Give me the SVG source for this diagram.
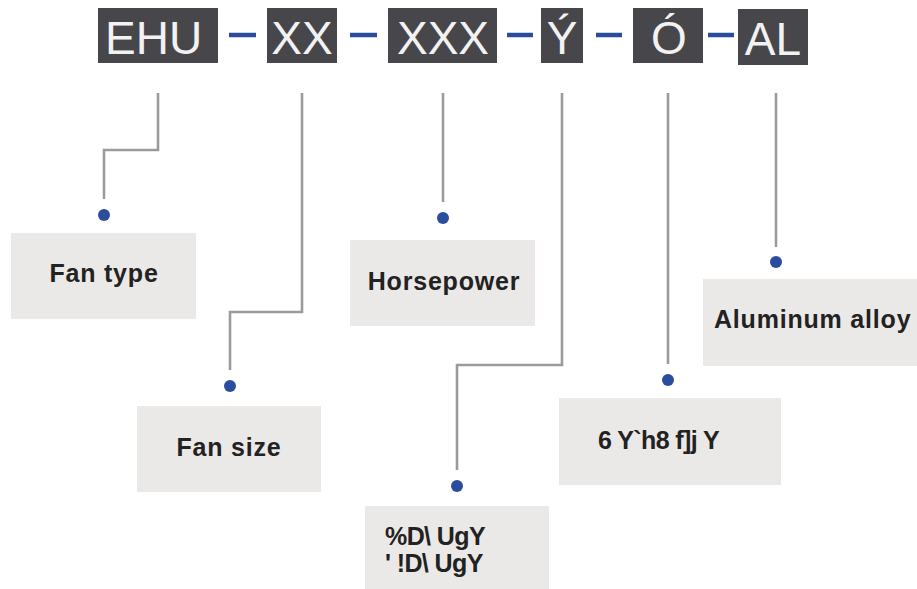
<svg xmlns="http://www.w3.org/2000/svg" width="917" height="589" viewBox="0 0 917 589">
<style>
.code{fill:#47464b}
.ct{fill:#f2f2f2;font-family:"Liberation Sans",Arial,sans-serif;font-size:46px}
.dash{stroke:#2b4c9b;stroke-width:4.5}
.conn{fill:none;stroke:#9b9b9d;stroke-width:2.6}
.dot{fill:#2a4d9e}
.box{fill:#ebe9e7}
.lt{fill:#222;font-family:"Liberation Sans",Arial,sans-serif;font-size:25px;font-weight:bold;letter-spacing:0.8px}
.tight{letter-spacing:-0.6px}
</style>
<rect width="917" height="589" fill="#fff"/>
<g id="code">
<rect class="code" x="98" y="8" width="120" height="55"/>
<text class="ct" x="105" y="54">EHU</text>
<rect class="code" x="267" y="8" width="70" height="55"/>
<text class="ct" x="302" y="54" text-anchor="middle">XX</text>
<rect class="code" x="388" y="8" width="109" height="55"/>
<text class="ct" x="443" y="54" text-anchor="middle">XXX</text>
<rect class="code" x="541" y="8" width="42" height="55"/>
<text class="ct" x="562" y="54" text-anchor="middle">Ý</text>
<rect class="code" x="633" y="8" width="70" height="55"/>
<text class="ct" x="669" y="54" text-anchor="middle">Ó</text>
<rect class="code" x="738" y="9" width="70" height="56"/>
<text class="ct" x="773" y="55" text-anchor="middle">AL</text>
<line class="dash" x1="229" y1="35" x2="256" y2="35"/>
<line class="dash" x1="350" y1="35" x2="377" y2="35"/>
<line class="dash" x1="507" y1="35" x2="533" y2="35"/>
<line class="dash" x1="596" y1="35" x2="622" y2="35"/>
<line class="dash" x1="708" y1="35" x2="734" y2="35"/>
</g>
<g id="connectors">
<polyline class="conn" points="158,93 158,150 104,150 104,199"/>
<polyline class="conn" points="302,93 302,312 230,312 230,370"/>
<polyline class="conn" points="443,93 443,202"/>
<polyline class="conn" points="562,93 562,365 457,365 457,470"/>
<polyline class="conn" points="668,93 668,364"/>
<polyline class="conn" points="776,93 776,247"/>
<circle class="dot" cx="104" cy="215" r="6"/>
<circle class="dot" cx="230" cy="386" r="6"/>
<circle class="dot" cx="443" cy="218" r="6"/>
<circle class="dot" cx="457" cy="486" r="6"/>
<circle class="dot" cx="668" cy="380" r="6"/>
<circle class="dot" cx="776" cy="262" r="6"/>
</g>
<g id="fan-type">
<rect class="box" x="11" y="233" width="185" height="86"/>
<text class="lt" x="104" y="282" text-anchor="middle">Fan type</text>
</g>
<g id="fan-size">
<rect class="box" x="137" y="406" width="184" height="86"/>
<text class="lt" x="229" y="456" text-anchor="middle">Fan size</text>
</g>
<g id="horsepower">
<rect class="box" x="350" y="240" width="185" height="86"/>
<text class="lt" x="444" y="290" text-anchor="middle">Horsepower</text>
</g>
<g id="phase">
<rect class="box" x="365" y="506" width="184" height="83"/>
<text class="lt tight" x="385" y="545">%D\ UgY</text>
<text class="lt tight" x="385" y="572">' !D\ UgY</text>
</g>
<g id="motor">
<rect class="box" x="559" y="398" width="222" height="87"/>
<text class="lt tight" x="598" y="449">6 Y`h8 f]j Y</text>
</g>
<g id="material">
<rect class="box" x="703" y="279" width="214" height="87"/>
<text class="lt" x="714" y="328">Aluminum alloy</text>
</g>
</svg>
